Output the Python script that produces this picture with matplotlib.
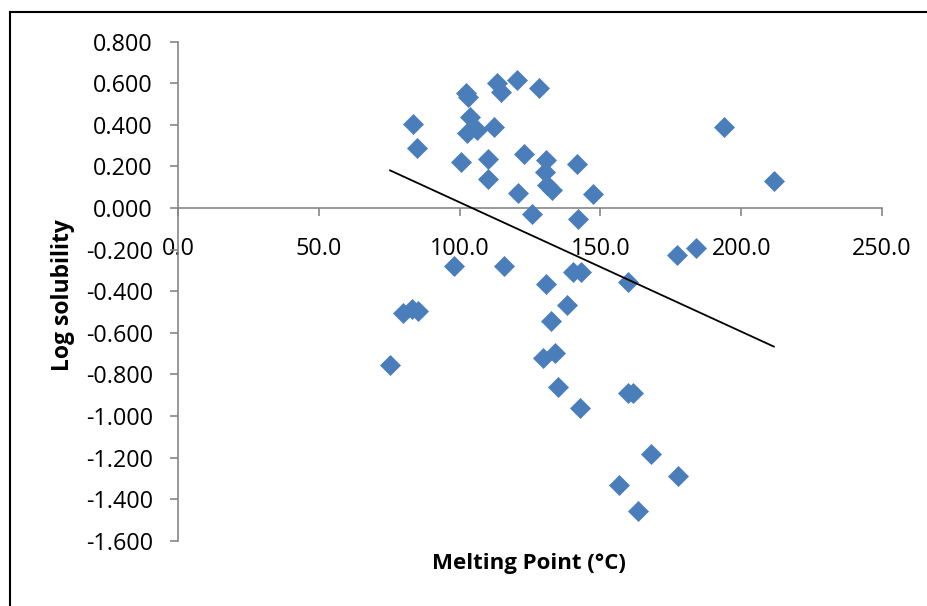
import numpy as np
import matplotlib
matplotlib.use("Agg")
import matplotlib.pyplot as plt
from matplotlib.lines import Line2D

# Data
melting_point = [83.3, 84.8, 102.2, 103.1, 113.2, 114.7, 120.3, 128.1, 103.7, 102.5,
                 106.3, 112.2, 100.4, 110.1, 110.1, 122.9, 130.7, 130.3, 130.9, 132.7,
                 141.8, 120.6, 147.5, 125.6, 141.9, 98.1, 115.8, 130.7, 140.4, 143.0,
                 138.0, 132.5, 79.8, 83.0, 85.3, 75.3, 129.7, 133.9, 134.8, 142.8,
                 159.9, 161.7, 167.9, 177.5, 156.7, 163.5, 193.9, 211.6, 177.1, 183.8,
                 159.8]
log_solubility = [0.402, 0.288, 0.554, 0.533, 0.600, 0.557, 0.618, 0.578, 0.437, 0.360,
                  0.373, 0.389, 0.221, 0.234, 0.141, 0.261, 0.232, 0.173, 0.109, 0.088,
                  0.213, 0.074, 0.069, -0.027, -0.051, -0.280, -0.280, -0.363, -0.307, -0.307,
                  -0.464, -0.544, -0.504, -0.488, -0.494, -0.755, -0.723, -0.699, -0.859, -0.963,
                  -0.891, -0.891, -1.182, -1.288, -1.331, -1.459, 0.389, 0.130, -0.224, -0.190,
                  -0.357]

x_ticks = [0, 50, 100, 150, 200, 250]
y_ticks = [0.8, 0.6, 0.4, 0.2, 0.0, -0.2, -0.4, -0.6, -0.8, -1.0, -1.2, -1.4, -1.6]

W, H = 928, 606
fig = plt.figure(figsize=(W / 100, H / 100), dpi=100)
font = "Open Sans"
plt.rcParams["font.family"] = [font, "DejaVu Sans"]

left, right, top, bottom = 178, 882, 41.7, 540.7
ax = fig.add_axes([left / W, 1 - bottom / H, (right - left) / W, (bottom - top) / H])

mk = 20 / 1.414 * 0.72
ax.plot(melting_point, log_solubility, linestyle="none", marker="D", markersize=mk,
        color="#4A7EBB", markeredgecolor="#4A7EBB", markeredgewidth=0.5, zorder=3)

# linear trendline
coef = np.polyfit(melting_point, log_solubility, 1)
xs = np.array([min(melting_point), max(melting_point)])
ax.plot(xs, np.polyval(coef, xs), color="black", linewidth=1.3, zorder=4)

ax.set_xlim(0, 250)
ax.set_ylim(-1.6, 0.8)
ax.set_xticks(x_ticks)
ax.set_xticklabels([f"{v:.1f}" for v in x_ticks])
ax.set_yticks(y_ticks)
ax.set_yticklabels([f"{v:.3f}" for v in y_ticks])

for s in ["top", "right"]:
    ax.spines[s].set_visible(False)
ax.spines["bottom"].set_position(("data", 0))
axis_col = "#868686"
for s in ["left", "bottom"]:
    ax.spines[s].set_color(axis_col)
    ax.spines[s].set_linewidth(1.2)

ax.tick_params(axis="both", direction="out", length=6, width=1.2, color=axis_col,
               labelsize=16.8, labelcolor="black")
ax.tick_params(axis="y", pad=12)
ax.tick_params(axis="x", pad=14.5)

fig.text(529 / W, 1 - 563 / H, "Melting Point (°C)", ha="center", va="center",
         fontsize=16, fontweight="bold")
fig.text(63 / W, 1 - 295 / H, "Log solubility", ha="center", va="center",
         rotation=90, fontsize=16.5, fontweight="bold")

# outer frame (left and top visible)
fx = 10 / W
fy = 1 - 12 / H
fig.add_artist(Line2D([fx, fx], [0, fy], transform=fig.transFigure, color="black", linewidth=1.5))
fig.add_artist(Line2D([fx, 1], [fy, fy], transform=fig.transFigure, color="black", linewidth=1.5))

fig.savefig("out.png", dpi=100)
